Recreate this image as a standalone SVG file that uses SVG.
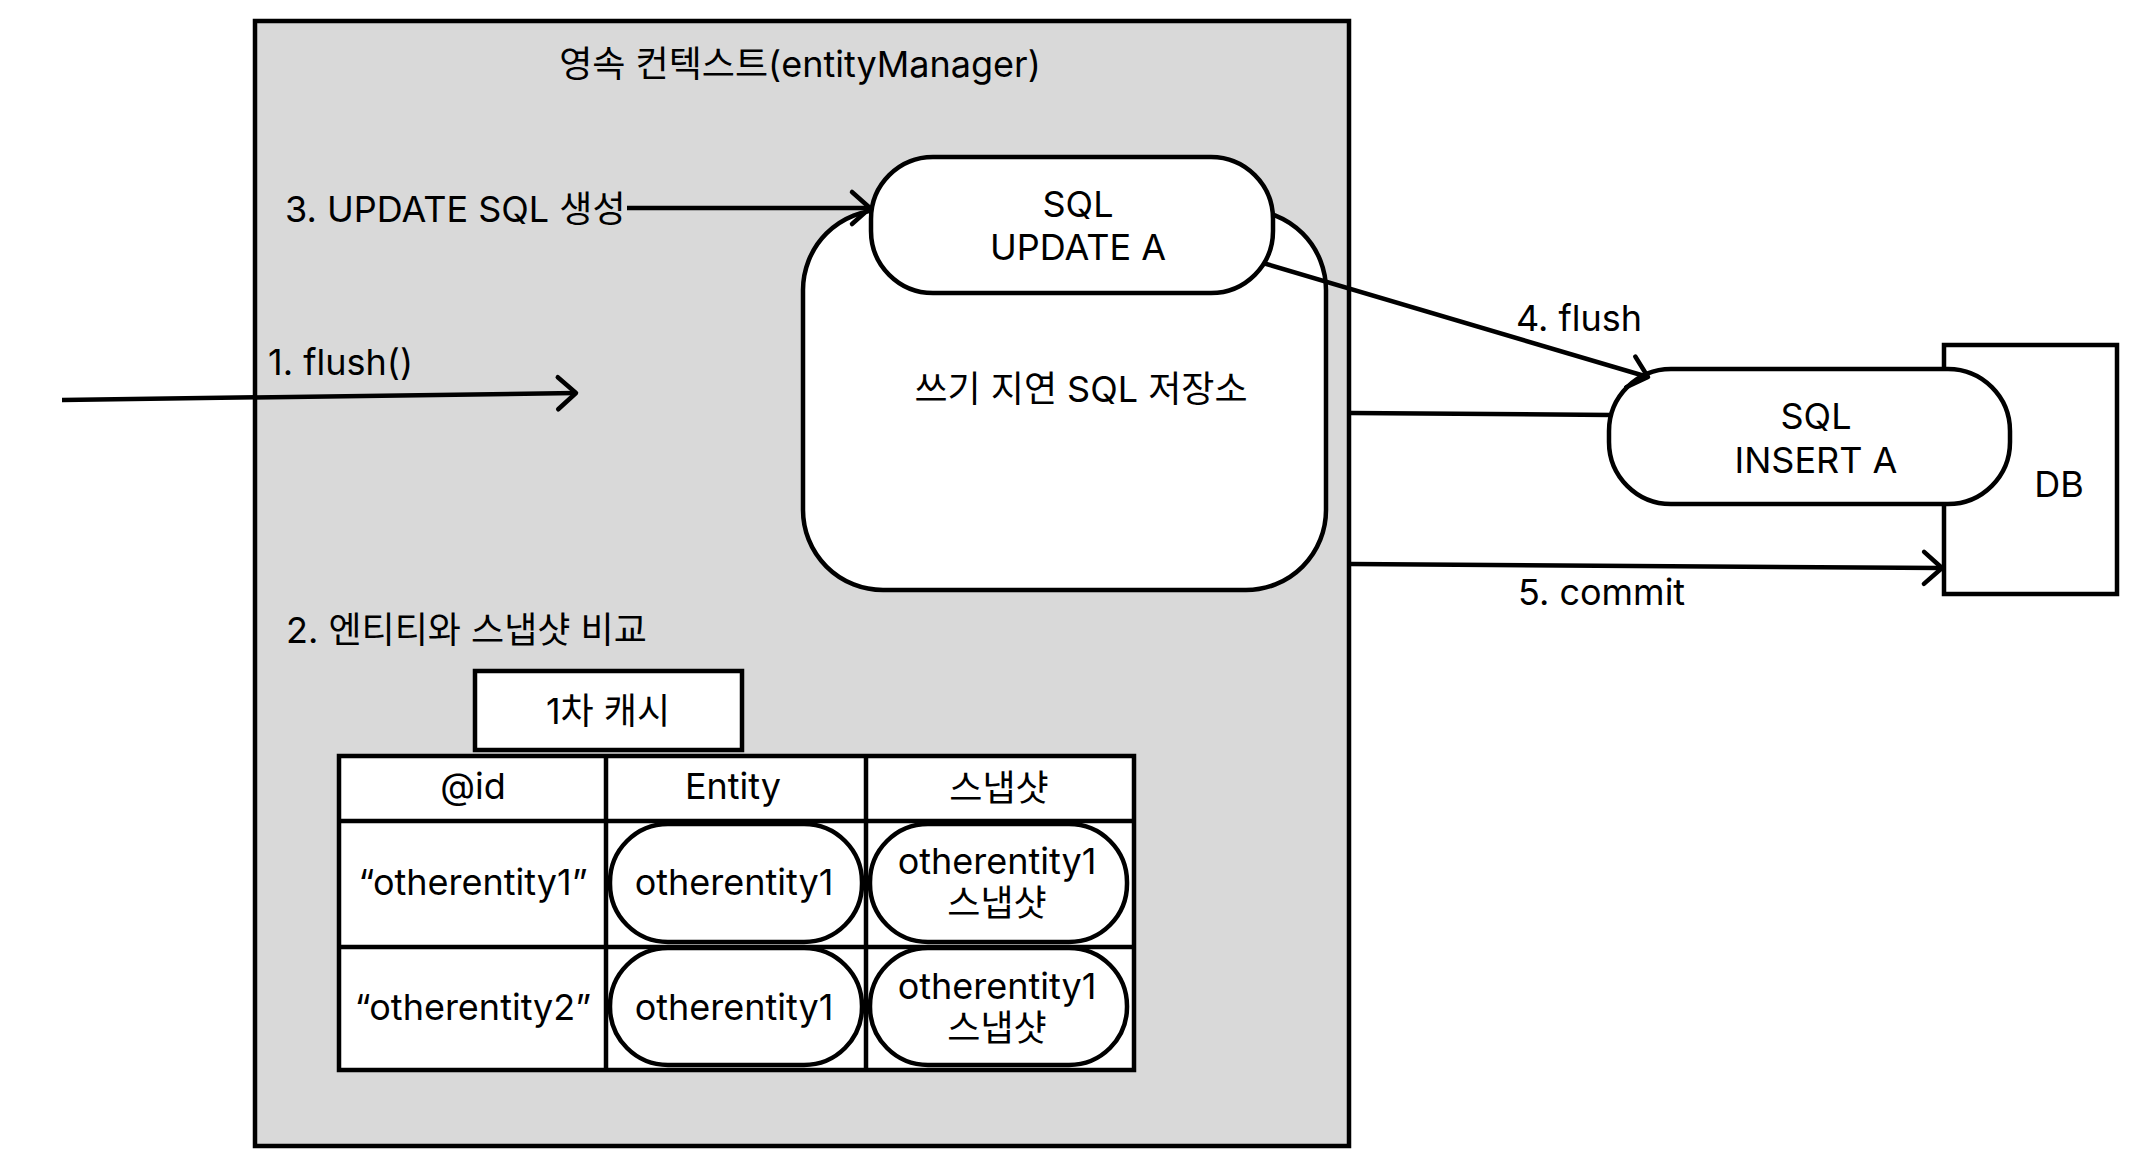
<svg xmlns="http://www.w3.org/2000/svg" width="2134" height="1174" viewBox="0 0 2134 1174">
<defs>
<style>
text{font-family:Inter,"Noto Sans CJK KR",sans-serif;font-size:36px;fill:#000}
.c{text-anchor:middle}
.sh{stroke:#000;stroke-width:4.5;fill:#fff}
.ln{stroke:#000;stroke-width:4.5;fill:none}
</style>
<marker id="arr" markerUnits="userSpaceOnUse" markerWidth="30" markerHeight="40" refX="22" refY="18" orient="auto" overflow="visible">
<path d="M4,2 L22,18 L4,34" fill="none" stroke="#000" stroke-width="4.5" stroke-linecap="round" stroke-linejoin="round"/>
</marker>
</defs>
<rect width="2134" height="1174" fill="#fff"/>
<g id="persistence-context">
<rect x="255" y="21" width="1094" height="1125" fill="#d9d9d9" stroke="#000" stroke-width="4.5"/>
<text class="c" x="800" y="77">영속 컨텍스트(entityManager)</text>
</g>
<g id="write-behind-store">
<rect class="sh" x="803" y="210" width="523" height="380" rx="80" ry="80"/>
<text class="c" x="1081" y="402">쓰기 지연 SQL 저장소</text>
</g>
<g id="sql-update">
<rect class="sh" x="871" y="157" width="402" height="136" rx="62" ry="62"/>
<text class="c" x="1078" y="217">SQL</text>
<text class="c" x="1078" y="260">UPDATE A</text>
</g>
<g id="db">
<rect class="sh" x="1944" y="345" width="173" height="249"/>
<text class="c" x="2059" y="497">DB</text>
</g>
<g id="sql-insert">
<rect class="sh" x="1609" y="369" width="401" height="135" rx="62" ry="62"/>
<text class="c" x="1816" y="429">SQL</text>
<text class="c" x="1816" y="473">INSERT A</text>
</g>
<g id="labels">
<text x="285" y="222">3. UPDATE SQL 생성</text>
<text x="268" y="375">1. flush()</text>
<text x="286" y="643">2. 엔티티와 스냅샷 비교</text>
<text x="1516" y="331">4. flush</text>
<text x="1518" y="605">5. commit</text>
</g>
<g id="first-level-cache">
<rect class="sh" x="475" y="671" width="267" height="79"/>
<text class="c" x="608" y="724">1차 캐시</text>
</g>
<g id="cache-table">
<rect class="sh" x="339" y="756" width="795" height="314"/>
<line class="ln" x1="606" y1="756" x2="606" y2="1070"/>
<line class="ln" x1="866" y1="756" x2="866" y2="1070"/>
<line class="ln" x1="339" y1="821" x2="1134" y2="821"/>
<line class="ln" x1="339" y1="947" x2="1134" y2="947"/>
<text class="c" x="473" y="799">@id</text>
<text class="c" x="733" y="799">Entity</text>
<text class="c" x="999" y="801">스냅샷</text>
<text class="c" x="473" y="895">“otherentity1”</text>
<text class="c" x="473" y="1020">“otherentity2”</text>
</g>
<g id="entity-1">
<rect class="sh" x="610" y="824" width="252" height="118" rx="58" ry="58"/>
<text class="c" x="734" y="895">otherentity1</text>
</g>
<g id="snapshot-1">
<rect class="sh" x="870" y="824" width="257" height="118" rx="58" ry="58"/>
<text class="c" x="997" y="874">otherentity1</text>
<text class="c" x="997" y="916">스냅샷</text>
</g>
<g id="entity-2">
<rect class="sh" x="610" y="948" width="252" height="117" rx="58" ry="58"/>
<text class="c" x="734" y="1020">otherentity1</text>
</g>
<g id="snapshot-2">
<rect class="sh" x="870" y="948" width="257" height="117" rx="58" ry="58"/>
<text class="c" x="997" y="999">otherentity1</text>
<text class="c" x="997" y="1041">스냅샷</text>
</g>
<g id="connectors">
<line class="ln" x1="627" y1="208" x2="870" y2="208" marker-end="url(#arr)"/>
<line class="ln" x1="62" y1="400" x2="576" y2="393" marker-end="url(#arr)"/>
<line class="ln" x1="1263" y1="263" x2="1648" y2="377" marker-end="url(#arr)"/>
<line class="ln" x1="1351" y1="413" x2="1611" y2="415"/>
<line class="ln" x1="1351" y1="564" x2="1942" y2="568" marker-end="url(#arr)"/>
</g>
</svg>
